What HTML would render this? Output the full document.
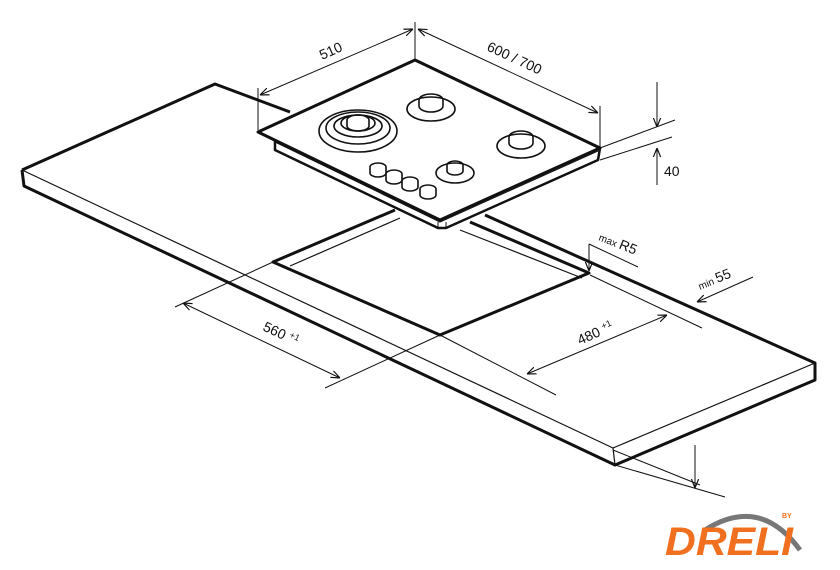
<!DOCTYPE html>
<html><head><meta charset="utf-8"><style>
html,body{margin:0;padding:0;background:#fff;}
svg{display:block;}
text{font-family:"Liberation Sans",sans-serif;fill:#111;}
</style></head><body>
<svg width="840" height="570" viewBox="0 0 840 570" xmlns="http://www.w3.org/2000/svg">
<defs>
<marker id="a" viewBox="0 0 10 10" refX="10" refY="5" markerWidth="9" markerHeight="9" orient="auto-start-reverse" markerUnits="userSpaceOnUse">
<path d="M0,1 L10,5 L0,9" fill="none" stroke="#111" stroke-width="1.3"/>
</marker>
</defs>
<rect width="840" height="570" fill="#fff"/>
<g stroke="#111" fill="none" stroke-linejoin="round">
<!-- countertop -->
<path d="M22,170 L215,84 L290,112" stroke-width="3"/>
<path d="M485,215 L815,363 L815,380 L615,465 L24,186 L22,170" stroke-width="3"/>
<path d="M22,170 L613,448 L815,363" stroke-width="1.2"/>
<path d="M613,448 L615,465" stroke-width="1.2"/>
<!-- cutout -->
<path d="M395,210 L273,262 L440,335 L589,273 L470,222" stroke-width="3"/>
<path d="M290,266 L400,218" stroke-width="1.2"/>
<path d="M460,230 L582,278" stroke-width="1.2"/>
<!-- hob -->
<path d="M275,140 L275,150 L438,228 L446,228 L598,160 L600,148" stroke-width="2.5" fill="#fff"/>
<path d="M258,132 L415,60 L600,148 L440,220 Z" stroke-width="3" fill="#fff"/>
<path d="M275,142 L440,222 L598,151" stroke-width="1"/>
<path d="M438,222 L438,228 M446,222 L446,228" stroke-width="1"/>
<!-- burners -->
<g stroke-width="1.6">
<ellipse cx="358" cy="131" rx="39" ry="21"/>
<ellipse cx="358" cy="128" rx="32" ry="16"/>
<ellipse cx="358" cy="126" rx="24" ry="11"/>
<ellipse cx="358" cy="123" rx="17" ry="8"/>
<path d="M347,120 a11,5 0 0 1 22,0 v6 a11,5 0 0 1 -22,0 z"/>
<ellipse cx="431" cy="109" rx="24" ry="12"/>
<path d="M419,100 a12,6 0 0 1 24,0 v6 a12,6 0 0 1 -24,0 z"/>
<ellipse cx="521" cy="146" rx="24" ry="12"/>
<path d="M509,137 a12,6 0 0 1 24,0 v6 a12,6 0 0 1 -24,0 z"/>
<ellipse cx="455" cy="173" rx="19" ry="10"/>
<path d="M447,165 a8,4 0 0 1 16,0 v6 a8,4 0 0 1 -16,0 z"/>
<path d="M370,167 a8,4 0 0 1 16,0 v6 a8,4 0 0 1 -16,0 z"/>
<path d="M386,174 a8,4 0 0 1 16,0 v6 a8,4 0 0 1 -16,0 z"/>
<path d="M402,181 a8,4 0 0 1 16,0 v6 a8,4 0 0 1 -16,0 z"/>
<path d="M420,189 a8,4 0 0 1 16,0 v6 a8,4 0 0 1 -16,0 z"/>
</g>
<!-- dimensions -->
<g stroke-width="1">
<path d="M258,88 L258,130 M415,22 L415,60 M600,106 L600,148"/>
<path d="M260,95 L413,29" marker-start="url(#a)" marker-end="url(#a)"/>
<path d="M418,29 L598,113" marker-start="url(#a)" marker-end="url(#a)"/>
<path d="M600,148 L675,120 M600,160 L672,137"/>
<path d="M657,82 L657,127" marker-end="url(#a)"/>
<path d="M657,185 L657,148" marker-end="url(#a)"/>
<path d="M589,244 L589,271" marker-end="url(#a)"/>
<path d="M589,244 L638,267"/>
<path d="M753,277 L697,302" marker-end="url(#a)"/>
<path d="M590,275 L702,328 M440,335 L556,395"/>
<path d="M527,374 L667,315" marker-start="url(#a)" marker-end="url(#a)"/>
<path d="M273,262 L175,307 M440,335 L325,388"/>
<path d="M183,303 L340,378" marker-start="url(#a)" marker-end="url(#a)"/>
<path d="M615,465 L725,497 M613,450 L700,485"/>
<path d="M695,445 L695,488" marker-end="url(#a)"/>
</g>
</g>
<g font-size="14">
<text transform="translate(322,60) rotate(-24)">510</text>
<text transform="translate(486,50) rotate(25)">600 / 700</text>
<text x="664" y="176">40</text>
<text transform="translate(598,240) rotate(22)" font-size="10">max <tspan font-size="14">R5</tspan></text>
<text transform="translate(700,290) rotate(-22)" font-size="10">min <tspan font-size="14">55</tspan></text>
<text transform="translate(580,345) rotate(-24)">480 <tspan font-size="9" dy="-5">+1</tspan></text>
<text transform="translate(262,330) rotate(25)">560 <tspan font-size="9" dy="-5">+1</tspan></text>
</g>
<!-- logo -->
<path d="M705,530 Q760,495 800,550" stroke="#777" stroke-width="5" fill="none"/>
<text x="665" y="555" font-size="40" font-weight="bold" font-style="italic" style="fill:#f07020" textLength="128" lengthAdjust="spacingAndGlyphs">DRELI</text>
<text x="782" y="518" font-size="7" font-weight="bold" style="fill:#f07020">BY</text>
</svg>
</body></html>
